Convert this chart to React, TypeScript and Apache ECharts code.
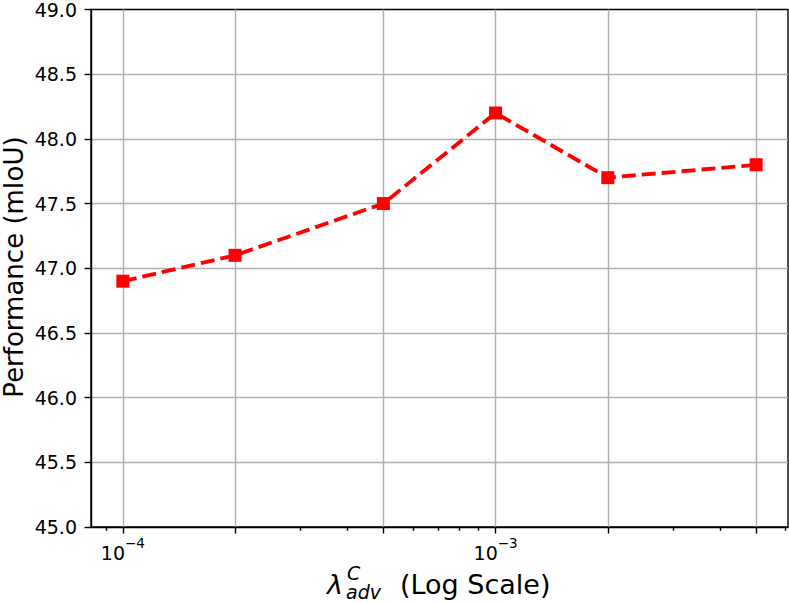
import React, { useEffect, useRef } from "react";
import * as echarts from "echarts";

// ---- data ----
const lambdaValues = [1e-4, 2e-4, 5e-4, 1e-3, 2e-3, 5e-3];
const miouValues = [46.9, 47.1, 47.5, 48.2, 47.7, 47.8];
const xMajorTicks = [1e-4, 2e-4, 5e-4, 1e-3, 2e-3, 5e-3];
const xMinorTicks = [9e-5, 3e-4, 4e-4, 6e-4, 7e-4, 8e-4, 9e-4, 3e-3, 4e-3, 6e-3];
const xLabelTicks = [1e-4, 1e-3];
const yMin = 45.0;
const yMax = 49.0;
const yStep = 0.5;
const xLogMin = -4.0855;
const xLogMax = -2.2155;
const yTitle = "Performance (mIoU)";
const xTitleMain = "(Log Scale)";

const FONT = "DejaVu Sans";
const SUP: Record<string, string> = { "-": "\u2212", "0": "0", "1": "1", "2": "2", "3": "3", "4": "4", "5": "5", "6": "6", "7": "7", "8": "8", "9": "9" };

export default function App() {
  const ref = useRef<HTMLDivElement>(null);
  useEffect(() => {
    if (!ref.current) return;
    const chart = echarts.init(ref.current, undefined, { renderer: "svg" });
    const xmin = Math.pow(10, xLogMin);
    const xmax = Math.pow(10, xLogMax);
    const tickLine = { color: "#000", width: 1.4 };
    const option: any = {
      animation: false,
      backgroundColor: "#fff",
      grid: {
        left: 91,
        top: 7,
        width: 697,
        height: 520,
        show: true,
        borderColor: "#000",
        borderWidth: 1.4,
        backgroundColor: "transparent",
        containLabel: false,
      },
      xAxis: [
        {
          type: "log",
          logBase: 10,
          min: xmin,
          max: xmax,
          position: "bottom",
          axisLine: { show: true, onZero: false, lineStyle: tickLine },
          axisTick: { show: true, customValues: xMajorTicks, length: 6.5, lineStyle: tickLine },
          axisLabel: {
            show: true,
            customValues: xLabelTicks,
            margin: 9,
            formatter: (v: number) => {
              const e = Math.round(Math.log10(v));
              const s = String(e).split("").map((c) => SUP[c] || c).join("");
              return "{b|10}{s|" + s + "}";
            },
            rich: {
              b: { fontFamily: FONT, fontSize: 19, color: "#000", lineHeight: 26, verticalAlign: "bottom" },
              s: { fontFamily: FONT, fontSize: 13.5, color: "#000", lineHeight: 15, verticalAlign: "top" },
            },
          },
          splitLine: { show: true, lineStyle: { color: "#b0b0b0", width: 1.4 } },
          minorTick: { show: false },
        },
        {
          type: "log",
          logBase: 10,
          min: xmin,
          max: xmax,
          position: "bottom",
          axisLine: { show: false, onZero: false },
          axisTick: { show: true, customValues: xMinorTicks, length: 3.8, lineStyle: tickLine },
          axisLabel: { show: false },
          splitLine: { show: false },
        },
      ],
      yAxis: {
        type: "value",
        min: yMin,
        max: yMax,
        interval: yStep,
        axisLine: { show: true, onZero: false, lineStyle: tickLine },
        axisTick: { show: true, length: 6.5, lineStyle: tickLine },
        axisLabel: {
          fontFamily: FONT,
          fontSize: 19,
          color: "#000",
          margin: 14,
          formatter: (v: number) => v.toFixed(1),
        },
        splitLine: { show: true, showMinLine: false, showMaxLine: false, lineStyle: { color: "#b0b0b0", width: 1.4 } },
      },
      graphic: [
        {
          type: "text",
          x: 14,
          y: 267,
          rotation: Math.PI / 2,
          style: { text: yTitle, fontFamily: FONT, fontSize: 26, lineHeight: 24, fill: "#000", align: "center", verticalAlign: "middle", textAlign: "center", textVerticalAlign: "middle" },
        },
        {
          type: "group",
          children: [
            { type: "text", x: 327, y: 584, style: { text: "\u03bb", fontFamily: FONT, fontStyle: "italic", fontSize: 27, lineHeight: 27, fill: "#000", align: "left", verticalAlign: "middle", textAlign: "left", textVerticalAlign: "middle" } },
            { type: "text", x: 347, y: 573, style: { text: "C", fontFamily: FONT, fontStyle: "italic", fontSize: 19, lineHeight: 14, fill: "#000", align: "left", verticalAlign: "middle", textAlign: "left", textVerticalAlign: "middle" } },
            { type: "text", x: 346, y: 592, style: { text: "adv", fontFamily: FONT, fontStyle: "italic", fontSize: 19, lineHeight: 14, fill: "#000", align: "left", verticalAlign: "middle", textAlign: "left", textVerticalAlign: "middle" } },
            { type: "text", x: 400, y: 584, style: { text: xTitleMain, fontFamily: FONT, fontSize: 27, lineHeight: 27, fill: "#000", align: "left", verticalAlign: "middle", textAlign: "left", textVerticalAlign: "middle" } },
          ],
        },
      ],
      series: [
        {
          type: "line",
          xAxisIndex: 0,
          yAxisIndex: 0,
          data: lambdaValues.map((x, i) => [x, miouValues[i]]),
          symbol: "rect",
          symbolSize: 13,
          showAllSymbol: true,
          lineStyle: { color: "#ff0000", width: 3.8, type: [14, 6] },
          itemStyle: { color: "#ff0000" },
          z: 3,
        },
      ],
    };
    chart.setOption(option);
    return () => chart.dispose();
  }, []);
  return <div ref={ref} style={{ position: "fixed", left: 0, top: 0, width: 789, height: 603 }} />;
}
